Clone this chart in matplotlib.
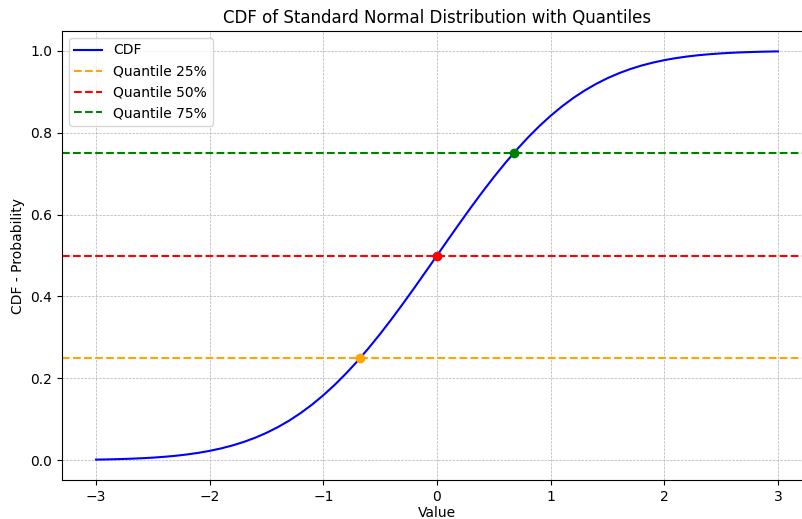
import matplotlib.pyplot as plt

# Values (CDF of standard normal)
x_vals = [-3.0, -2.9, -2.8, -2.7, -2.6, -2.5, -2.4, -2.3, -2.2, -2.1,
          -2.0, -1.9, -1.8, -1.7, -1.6, -1.5, -1.4, -1.3, -1.2, -1.1,
          -1.0, -0.9, -0.8, -0.7, -0.6, -0.5, -0.4, -0.3, -0.2, -0.1,
          0.0, 0.1, 0.2, 0.3, 0.4, 0.5, 0.6, 0.7, 0.8, 0.9,
          1.0, 1.1, 1.2, 1.3, 1.4, 1.5, 1.6, 1.7, 1.8, 1.9,
          2.0, 2.1, 2.2, 2.3, 2.4, 2.5, 2.6, 2.7, 2.8, 2.9, 3.0]
cdf_vals = [0.00135, 0.00187, 0.00256, 0.00347, 0.00466, 0.00621, 0.00820,
            0.01072, 0.01390, 0.01786, 0.02275, 0.02872, 0.03593, 0.04457,
            0.05480, 0.06681, 0.08076, 0.09680, 0.11507, 0.13567, 0.15866,
            0.18406, 0.21186, 0.24196, 0.27425, 0.30854, 0.34458, 0.38209,
            0.42074, 0.46017, 0.50000, 0.53983, 0.57926, 0.61791, 0.65542,
            0.69146, 0.72575, 0.75804, 0.78814, 0.81594, 0.84134, 0.86433,
            0.88493, 0.90320, 0.91924, 0.93319, 0.94520, 0.95543, 0.96407,
            0.97128, 0.97725, 0.98214, 0.98610, 0.98928, 0.99180, 0.99379,
            0.99534, 0.99653, 0.99744, 0.99813, 0.99865]

quantile_labels = ["25%", "50%", "75%"]
quantile_probs = [0.25, 0.5, 0.75]
quantile_x = [-0.674, 0.0, 0.674]
quantile_colors = ["orange", "red", "green"]

fig = plt.figure(figsize=(8.03, 5.19), dpi=100)
ax = fig.add_axes([0.0772, 0.0751, 0.934, 0.8652])

ax.plot(x_vals, cdf_vals, color="blue", label="CDF")
for lab, p, q, c in zip(quantile_labels, quantile_probs, quantile_x, quantile_colors):
    ax.axhline(p, color=c, linestyle="--", label="Quantile " + lab)
    ax.scatter([q], [p], color=c, zorder=5)

ax.set_title("CDF of Standard Normal Distribution with Quantiles")
ax.set_xlabel("Value", labelpad=1.5)
ax.set_ylabel("CDF - Probability")
ax.legend(loc="upper left")
ax.grid(True, linestyle="--", linewidth=0.5)

fig.savefig("out.png", dpi=100)
plt.close()
